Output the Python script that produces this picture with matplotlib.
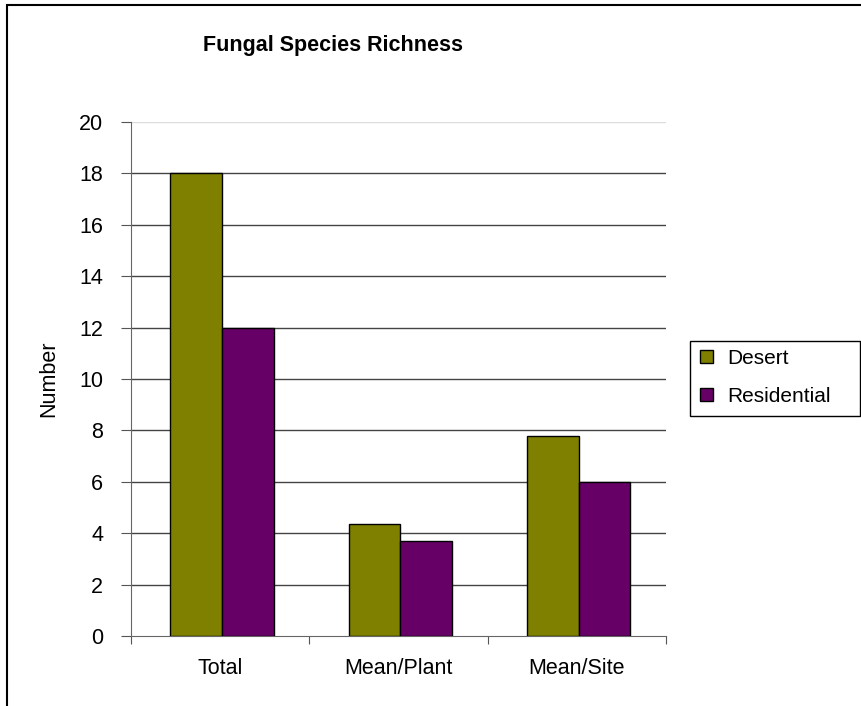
import numpy as np
import matplotlib.pyplot as plt
from matplotlib.patches import Rectangle

categories = ['Total', 'Mean/Plant', 'Mean/Site']
desert = [18.0, 4.34, 7.8]
residential = [12.0, 3.71, 6.0]
series_names = ['Desert', 'Residential']
y_ticks = [0, 2, 4, 6, 8, 10, 12, 14, 16, 18, 20]

plt.rcParams['font.family'] = ['Liberation Sans', 'DejaVu Sans']

W, H = 862, 706
fig = plt.figure(figsize=(W / 100, H / 100), dpi=100)
ax = fig.add_axes([131/W, 1 - 636/H, (666 - 131)/W, (636 - 122)/H])

# outer chart border (right/bottom are cropped off in the reference)
fig.patches.append(Rectangle((7/W, -0.1), 1.2, 1 - 5/H + 0.1, transform=fig.transFigure,
                             fill=False, edgecolor='black', linewidth=1.5))

x = np.arange(len(categories))
w = 0.29
b1 = ax.bar(x - w/2 + 0.01, desert, w, color='#808000', edgecolor='black', linewidth=1, label=series_names[0], zorder=3)
b2 = ax.bar(x + w/2 + 0.01, residential, w, color='#660066', edgecolor='black', linewidth=1, label=series_names[1], zorder=3)

ax.set_xlim(-0.5, 2.5)
ax.set_ylim(0, 20)
ax.set_yticks(y_ticks)
ax.set_yticklabels([str(t) for t in y_ticks], fontsize=15.5)
for t in y_ticks[1:-1]:
    ax.axhline(t, color='#444444', linewidth=1, zorder=1)
ax.axhline(20, color='#dddddd', linewidth=1, zorder=1)

ax.set_xticks([-0.5, 0.5, 1.5, 2.5])
ax.set_xticklabels([])
ax.set_xticks(x, minor=True)
ax.set_xticklabels(categories, minor=True, fontsize=15.5)
ax.tick_params(axis='x', which='minor', length=0, pad=16)
ax.tick_params(axis='x', which='major', length=6, color='#555555', direction='out')
ax.tick_params(axis='y', length=7, color='#555555', pad=13)

for s in ['top', 'right']:
    ax.spines[s].set_visible(False)
ax.spines['left'].set_color('#666666')
ax.spines['bottom'].set_color('#666666')

ax.set_ylabel('Number', fontsize=15.5, labelpad=14)
fig.text(333/W, 1 - 46/H, 'Fungal Species Richness', fontsize=15.5,
         fontweight='bold', ha='center', va='center')

# legend: box drawn separately to get Excel-like padding
fig.patches.append(Rectangle((690/W, 1 - 416/H), 170/W, 75/H, transform=fig.transFigure,
                             fill=False, edgecolor='black', linewidth=1))
leg = fig.legend(handles=[b1, b2], loc='upper left', bbox_to_anchor=(700/W, 1 - 349/H),
                 fontsize=15, frameon=False,
                 handlelength=0.6, handleheight=0.6, handletextpad=0.7, borderpad=0.0,
                 labelspacing=0.9, borderaxespad=0)

fig.savefig('out.png', dpi=100)
